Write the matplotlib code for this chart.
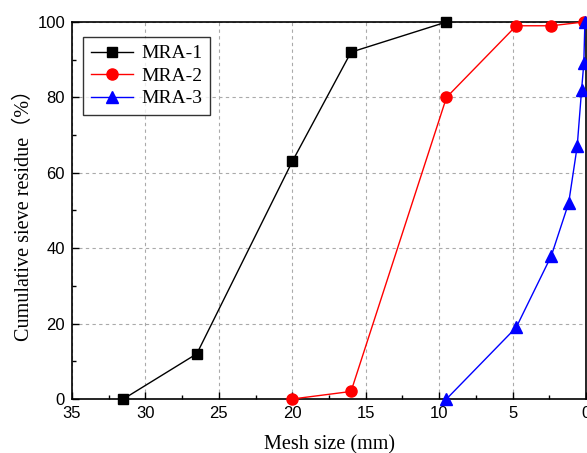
import matplotlib
matplotlib.use("Agg")
import matplotlib.pyplot as plt
from matplotlib.ticker import MultipleLocator

mra1_x = [31.5, 26.5, 20, 16, 9.5]
mra1_y = [0, 12, 63, 92, 100]
mra2_x = [20, 16, 9.5, 4.75, 2.36, 0.15]
mra2_y = [0, 2, 80, 99, 99, 100]
mra3_x = [9.5, 4.75, 2.36, 1.18, 0.6, 0.3, 0.15, 0.075]
mra3_y = [0, 19, 38, 52, 67, 82, 89, 100]
labels = ["MRA-1", "MRA-2", "MRA-3"]

fig = plt.figure(figsize=(5.87, 4.53), dpi=100)
ax = fig.add_axes([72/587, 1-399/453, (586-72)/587, (399-22)/453])

ax.plot(mra1_x, mra1_y, color="black", marker="s", markersize=7, lw=1, label=labels[0], clip_on=False, zorder=3)
ax.plot(mra2_x, mra2_y, color="red", marker="o", markersize=8, lw=1, label=labels[1], clip_on=False, zorder=3)
ax.plot(mra3_x, mra3_y, color="blue", marker="^", markersize=8, lw=1, label=labels[2], clip_on=False, zorder=3)

ax.set_xlim(35, 0)
ax.set_ylim(0, 100)
ax.xaxis.set_major_locator(MultipleLocator(5))
ax.xaxis.set_minor_locator(MultipleLocator(2.5))
ax.yaxis.set_major_locator(MultipleLocator(20))
ax.yaxis.set_minor_locator(MultipleLocator(10))
ax.tick_params(which="both", direction="in", top=False, right=False)
ax.tick_params(which="major", length=5, width=1, labelsize=12, pad=5)
ax.tick_params(which="minor", length=3, width=1)
for lab in ax.get_xticklabels() + ax.get_yticklabels():
    lab.set_fontfamily("Liberation Sans")
ax.grid(True, which="major", linestyle=(0, (3, 3)), color="#aaaaaa", lw=0.8)
for s in ax.spines.values():
    s.set_linewidth(1.2)

ax.set_xlabel("Mesh size (mm)", family=["Liberation Serif", "Noto Sans CJK SC"], fontsize=14.5, labelpad=10)
ax.set_ylabel("Cumulative sieve residue（%）", family=["Liberation Serif", "Noto Sans CJK SC"], fontsize=14.5, labelpad=2)

leg = ax.legend(loc="upper left", bbox_to_anchor=(0.021, 0.96), prop={"family": "Liberation Serif", "size": 14},
                frameon=True, fancybox=False, edgecolor="black", handlelength=2.2, borderpad=0.4,
                labelspacing=0.25, handletextpad=0.4, borderaxespad=0)
leg.get_frame().set_linewidth(1.0)

fig.savefig("out.png", dpi=100)
